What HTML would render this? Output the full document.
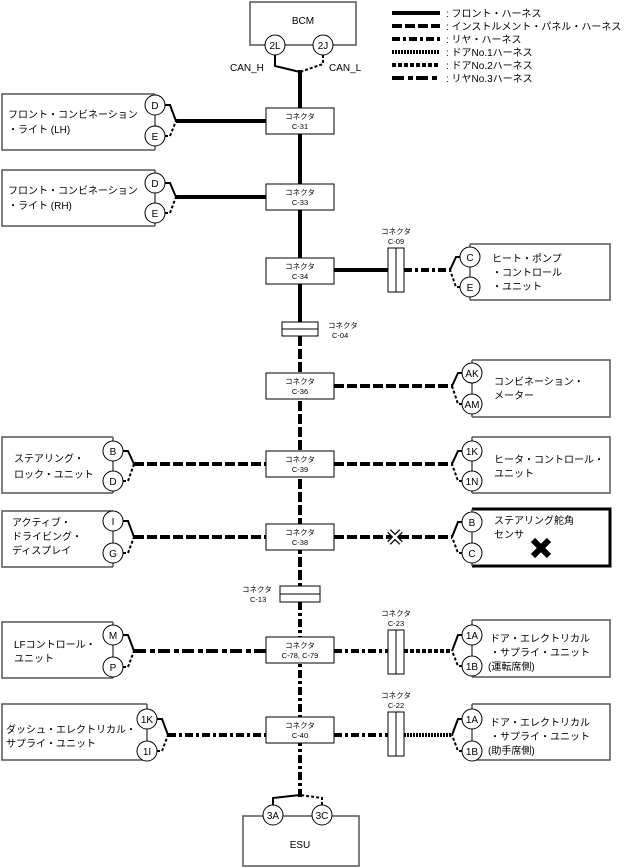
<!DOCTYPE html>
<html><head><meta charset="utf-8"><style>
body{margin:0;background:#fff}
svg{display:block}
text{font-family:"Liberation Sans","Noto Sans CJK JP",sans-serif;fill:#000}
.b{fill:#fff;stroke:#555;stroke-width:1.5}
.c{fill:#fff;stroke:#000;stroke-width:1}
.k{fill:#fff;stroke:#000;stroke-width:1}
.w{fill:none;stroke:#000;stroke-width:4}
.ip{stroke-dasharray:10 3}
.r{stroke-dasharray:8 3 3 3}
.d1{stroke-dasharray:2 1}
.d2{stroke-dasharray:4 2}
.r3{stroke-dasharray:12 4 5 3}
.f{fill:none;stroke:#000;stroke-width:2}
.fd{fill:none;stroke:#000;stroke-width:2;stroke-dasharray:3 2}
.t{font-size:10px}
.s{font-size:7.5px}
</style></head><body>
<svg width="628" height="868" viewBox="0 0 628 868" xmlns="http://www.w3.org/2000/svg">
<!-- legend -->
<g>
<line class="w" x1="392" y1="13" x2="440" y2="13"/>
<line class="w ip" x1="392" y1="26" x2="440" y2="26"/>
<line class="w r" x1="392" y1="39" x2="440" y2="39"/>
<line class="w d1" x1="392" y1="52" x2="440" y2="52"/>
<line class="w d2" x1="392" y1="65" x2="440" y2="65"/>
<line class="w r3" x1="392" y1="78" x2="440" y2="78"/>
<text class="t" x="446" y="17">: フロント・ハーネス</text>
<text class="t" x="446" y="30">: インストルメント・パネル・ハーネス</text>
<text class="t" x="446" y="43">: リヤ・ハーネス</text>
<text class="t" x="446" y="56">: ドアNo.1ハーネス</text>
<text class="t" x="446" y="69">: ドアNo.2ハーネス</text>
<text class="t" x="446" y="82">: リヤNo.3ハーネス</text>
</g>
<!-- trunk -->
<line class="w" x1="300" y1="70" x2="300" y2="322"/>
<line class="w ip" x1="300" y1="336" x2="300" y2="586"/>
<line class="w r" x1="300" y1="602" x2="300" y2="798"/>
<!-- BCM -->
<path class="b" d="M265,45 H250 V2 H356 V45 H333"/>
<line class="b" x1="285" y1="45" x2="313" y2="45"/>
<circle class="c" cx="275" cy="45" r="10"/><text class="t" x="275" y="49" text-anchor="middle">2L</text>
<circle class="c" cx="323" cy="45" r="10"/><text class="t" x="323" y="49" text-anchor="middle">2J</text>
<text class="t" x="303" y="24" text-anchor="middle">BCM</text>
<path class="f" d="M275,55 V66 L300,72"/>
<path class="fd" d="M323,55 V64 L300,72"/>
<text class="t" x="230" y="71">CAN_H</text>
<text class="t" x="329" y="71">CAN_L</text>
<!-- ESU -->
<path class="b" d="M263,816 H243 V866 H359 V816 H332"/>
<line class="b" x1="283" y1="816" x2="312" y2="816"/>
<circle class="c" cx="273" cy="815" r="10"/><text class="t" x="273" y="819" text-anchor="middle">3A</text>
<circle class="c" cx="322" cy="815" r="10"/><text class="t" x="322" y="819" text-anchor="middle">3C</text>
<text class="t" x="300" y="848" text-anchor="middle">ESU</text>
<path class="f" d="M273,805 V798 L300,795"/>
<path class="fd" d="M322,805 V798 L300,795"/>

<!-- horizontal wires -->
<line class="w" x1="176" y1="121" x2="266" y2="121"/>
<line class="w" x1="176" y1="197" x2="266" y2="197"/>
<line class="w" x1="334" y1="270" x2="388" y2="270"/>
<line class="w r" x1="404" y1="270" x2="450" y2="270"/>
<line class="w ip" x1="334" y1="386" x2="452" y2="386"/>
<line class="w ip" x1="134" y1="464" x2="266" y2="464"/>
<line class="w ip" x1="334" y1="464" x2="452" y2="464"/>
<line class="w ip" x1="134" y1="537" x2="266" y2="537"/>
<line class="w ip" x1="334" y1="537" x2="452" y2="537"/>
<line class="w r3" x1="134" y1="651" x2="266" y2="651"/>
<line class="w r" x1="334" y1="651" x2="388" y2="651"/>
<line class="w d2" x1="404" y1="651" x2="452" y2="651"/>
<line class="w r" x1="168" y1="735" x2="266" y2="735"/>
<line class="w r" x1="334" y1="735" x2="388" y2="735"/>
<line class="w d1" x1="404" y1="735" x2="452" y2="735"/>
<!-- X break on C-38 wire -->
<g transform="translate(395,537)"><path d="M-6,-6 L6,6 M6,-6 L-6,6" stroke="#000" stroke-width="5"/><path d="M-6,-6 L6,6 M6,-6 L-6,6" stroke="#fff" stroke-width="2.5"/></g>

<!-- connector boxes -->
<g>
<rect class="k" x="266" y="108" width="68" height="26"/><text class="s" x="300" y="119" text-anchor="middle">コネクタ</text><text class="s" x="300" y="129" text-anchor="middle">C-31</text>
<rect class="k" x="266" y="184" width="68" height="26"/><text class="s" x="300" y="195" text-anchor="middle">コネクタ</text><text class="s" x="300" y="205" text-anchor="middle">C-33</text>
<rect class="k" x="266" y="258" width="68" height="26"/><text class="s" x="300" y="269" text-anchor="middle">コネクタ</text><text class="s" x="300" y="279" text-anchor="middle">C-34</text>
<rect class="k" x="282" y="322" width="36" height="14"/><line class="k" x1="282" y1="329" x2="318" y2="329"/>
<text class="s" x="328" y="328">コネクタ</text><text class="s" x="332" y="338">C-04</text>
<rect class="k" x="266" y="373" width="68" height="26"/><text class="s" x="300" y="384" text-anchor="middle">コネクタ</text><text class="s" x="300" y="394" text-anchor="middle">C-36</text>
<rect class="k" x="266" y="451" width="68" height="26"/><text class="s" x="300" y="462" text-anchor="middle">コネクタ</text><text class="s" x="300" y="472" text-anchor="middle">C-39</text>
<rect class="k" x="266" y="524" width="68" height="26"/><text class="s" x="300" y="535" text-anchor="middle">コネクタ</text><text class="s" x="300" y="545" text-anchor="middle">C-38</text>
<rect class="k" x="280" y="586" width="40" height="16"/><line class="k" x1="280" y1="594" x2="320" y2="594"/>
<text class="s" x="242" y="592">コネクタ</text><text class="s" x="250" y="602">C-13</text>
<rect class="k" x="266" y="637" width="68" height="26"/><text class="s" x="300" y="648" text-anchor="middle">コネクタ</text><text class="s" x="300" y="658" text-anchor="middle">C-78, C-79</text>
<rect class="k" x="266" y="717" width="68" height="26"/><text class="s" x="300" y="728" text-anchor="middle">コネクタ</text><text class="s" x="300" y="738" text-anchor="middle">C-40</text>
<!-- inline connectors -->
<rect class="k" x="388" y="248" width="16" height="44"/><line class="k" x1="396" y1="248" x2="396" y2="292"/>
<text class="s" x="396" y="234" text-anchor="middle">コネクタ</text><text class="s" x="396" y="244" text-anchor="middle">C-09</text>
<rect class="k" x="388" y="630" width="16" height="44"/><line class="k" x1="396" y1="630" x2="396" y2="674"/>
<text class="s" x="396" y="616" text-anchor="middle">コネクタ</text><text class="s" x="396" y="626" text-anchor="middle">C-23</text>
<rect class="k" x="388" y="712" width="16" height="44"/><line class="k" x1="396" y1="712" x2="396" y2="756"/>
<text class="s" x="396" y="698" text-anchor="middle">コネクタ</text><text class="s" x="396" y="708" text-anchor="middle">C-22</text>
</g>

<!-- left devices -->
<!-- LH -->
<path class="b" d="M155,94 H2 V150 H155"/><line class="b" x1="155" y1="94" x2="155" y2="150"/>
<circle class="c" cx="155" cy="105" r="10"/><text class="t" x="155" y="109" text-anchor="middle">D</text>
<circle class="c" cx="155" cy="136" r="10"/><text class="t" x="155" y="140" text-anchor="middle">E</text>
<path class="f" d="M165,105 H170 L176,121"/><path class="fd" d="M165,136 H170 L176,121"/>
<text class="t" x="8" y="118">フロント・コンビネーション</text><text class="t" x="8" y="133">・ライト (LH)</text>
<!-- RH -->
<path class="b" d="M155,170 H2 V226 H155"/><line class="b" x1="155" y1="170" x2="155" y2="226"/>
<circle class="c" cx="155" cy="183" r="10"/><text class="t" x="155" y="187" text-anchor="middle">D</text>
<circle class="c" cx="155" cy="213" r="10"/><text class="t" x="155" y="217" text-anchor="middle">E</text>
<path class="f" d="M165,183 H170 L176,197"/><path class="fd" d="M165,213 H170 L176,197"/>
<text class="t" x="8" y="194">フロント・コンビネーション</text><text class="t" x="8" y="209">・ライト (RH)</text>
<!-- Steering lock -->
<path class="b" d="M113,437 H2 V493 H113"/><line class="b" x1="113" y1="437" x2="113" y2="493"/>
<circle class="c" cx="113" cy="451" r="10"/><text class="t" x="113" y="455" text-anchor="middle">B</text>
<circle class="c" cx="113" cy="481" r="10"/><text class="t" x="113" y="485" text-anchor="middle">D</text>
<path class="f" d="M123,451 H128 L134,464"/><path class="fd" d="M123,481 H128 L134,464"/>
<text class="t" x="14" y="462">ステアリング・</text><text class="t" x="14" y="478">ロック・ユニット</text>
<!-- Active -->
<path class="b" d="M113,511 H2 V567 H113"/><line class="b" x1="113" y1="511" x2="113" y2="567"/>
<circle class="c" cx="113" cy="521" r="10"/><text class="t" x="113" y="525" text-anchor="middle">I</text>
<circle class="c" cx="113" cy="553" r="10"/><text class="t" x="113" y="557" text-anchor="middle">G</text>
<path class="f" d="M123,521 H128 L134,537"/><path class="fd" d="M123,553 H128 L134,537"/>
<text class="t" x="12" y="526">アクティブ・</text><text class="t" x="12" y="540">ドライビング・</text><text class="t" x="12" y="554">ディスプレイ</text>
<!-- LF -->
<path class="b" d="M113,622 H2 V678 H113"/><line class="b" x1="113" y1="622" x2="113" y2="678"/>
<circle class="c" cx="113" cy="635" r="10"/><text class="t" x="113" y="639" text-anchor="middle">M</text>
<circle class="c" cx="113" cy="667" r="10"/><text class="t" x="113" y="671" text-anchor="middle">P</text>
<path class="f" d="M123,635 H128 L134,651"/><path class="fd" d="M123,667 H128 L134,651"/>
<text class="t" x="14" y="648">LFコントロール・</text><text class="t" x="14" y="662">ユニット</text>
<!-- Dash -->
<path class="b" d="M147,704 H2 V760 H147"/><line class="b" x1="147" y1="704" x2="147" y2="760"/>
<circle class="c" cx="147" cy="719" r="10"/><text class="t" x="147" y="723" text-anchor="middle">1K</text>
<circle class="c" cx="147" cy="751" r="10"/><text class="t" x="147" y="755" text-anchor="middle">1I</text>
<path class="f" d="M157,719 H162 L168,735"/><path class="fd" d="M157,751 H162 L168,735"/>
<text class="t" x="6" y="733">ダッシュ・エレクトリカル・</text><text class="t" x="6" y="747">サプライ・ユニット</text>

<!-- right devices -->
<!-- Heat pump -->
<path class="b" d="M470,244 H610 V300 H470"/><line class="b" x1="470" y1="244" x2="470" y2="300"/>
<circle class="c" cx="470" cy="257" r="10"/><text class="t" x="470" y="261" text-anchor="middle">C</text>
<circle class="c" cx="470" cy="287" r="10"/><text class="t" x="470" y="291" text-anchor="middle">E</text>
<path class="f" d="M460,257 H456 L450,270"/><path class="fd" d="M460,287 H456 L450,270"/>
<text class="t" x="492" y="262">ヒート・ポンプ</text><text class="t" x="492" y="276">・コントロール</text><text class="t" x="492" y="290">・ユニット</text>
<!-- Combination meter -->
<path class="b" d="M472,360 H610 V417 H472"/><line class="b" x1="472" y1="360" x2="472" y2="417"/>
<circle class="c" cx="472" cy="373" r="10"/><text class="t" x="472" y="377" text-anchor="middle">AK</text>
<circle class="c" cx="472" cy="404" r="10"/><text class="t" x="472" y="408" text-anchor="middle">AM</text>
<path class="f" d="M462,373 H458 L452,386"/><path class="fd" d="M462,404 H458 L452,386"/>
<text class="t" x="494" y="385">コンビネーション・</text><text class="t" x="494" y="399">メーター</text>
<!-- Heater control -->
<path class="b" d="M472,437 H610 V493 H472"/><line class="b" x1="472" y1="437" x2="472" y2="493"/>
<circle class="c" cx="472" cy="451" r="10"/><text class="t" x="472" y="455" text-anchor="middle">1K</text>
<circle class="c" cx="472" cy="481" r="10"/><text class="t" x="472" y="485" text-anchor="middle">1N</text>
<path class="f" d="M462,451 H458 L452,464"/><path class="fd" d="M462,481 H458 L452,464"/>
<text class="t" x="494" y="463">ヒータ・コントロール・</text><text class="t" x="494" y="477">ユニット</text>
<!-- Steering angle sensor -->
<path d="M472,509 H610 V566 H472" fill="#fff" stroke="#000" stroke-width="3"/><line class="b" x1="472" y1="509" x2="472" y2="566"/>
<circle class="c" cx="472" cy="522" r="10"/><text class="t" x="472" y="526" text-anchor="middle">B</text>
<circle class="c" cx="472" cy="553" r="10"/><text class="t" x="472" y="557" text-anchor="middle">C</text>
<path class="f" d="M462,522 H458 L452,537"/><path class="fd" d="M462,553 H458 L452,537"/>
<text class="t" x="494" y="524">ステアリング舵角</text><text class="t" x="494" y="538">センサ</text>
<path d="M533,540 L549,556 M549,540 L533,556" stroke="#000" stroke-width="6"/>
<!-- Door 1 -->
<path class="b" d="M472,620 H610 V677 H472"/><line class="b" x1="472" y1="620" x2="472" y2="677"/>
<circle class="c" cx="472" cy="635" r="10"/><text class="t" x="472" y="639" text-anchor="middle">1A</text>
<circle class="c" cx="472" cy="666" r="10"/><text class="t" x="472" y="670" text-anchor="middle">1B</text>
<path class="f" d="M462,635 H458 L452,651"/><path class="fd" d="M462,666 H458 L452,651"/>
<text class="t" x="490" y="642">ドア・エレクトリカル</text><text class="t" x="490" y="656">・サプライ・ユニット</text><text class="t" x="488" y="670">(運転席側)</text>
<!-- Door 2 -->
<path class="b" d="M472,704 H610 V760 H472"/><line class="b" x1="472" y1="704" x2="472" y2="760"/>
<circle class="c" cx="472" cy="719" r="10"/><text class="t" x="472" y="723" text-anchor="middle">1A</text>
<circle class="c" cx="472" cy="751" r="10"/><text class="t" x="472" y="755" text-anchor="middle">1B</text>
<path class="f" d="M462,719 H458 L452,735"/><path class="fd" d="M462,751 H458 L452,735"/>
<text class="t" x="490" y="726">ドア・エレクトリカル</text><text class="t" x="490" y="740">・サプライ・ユニット</text><text class="t" x="488" y="754">(助手席側)</text>
</svg>
</body></html>
